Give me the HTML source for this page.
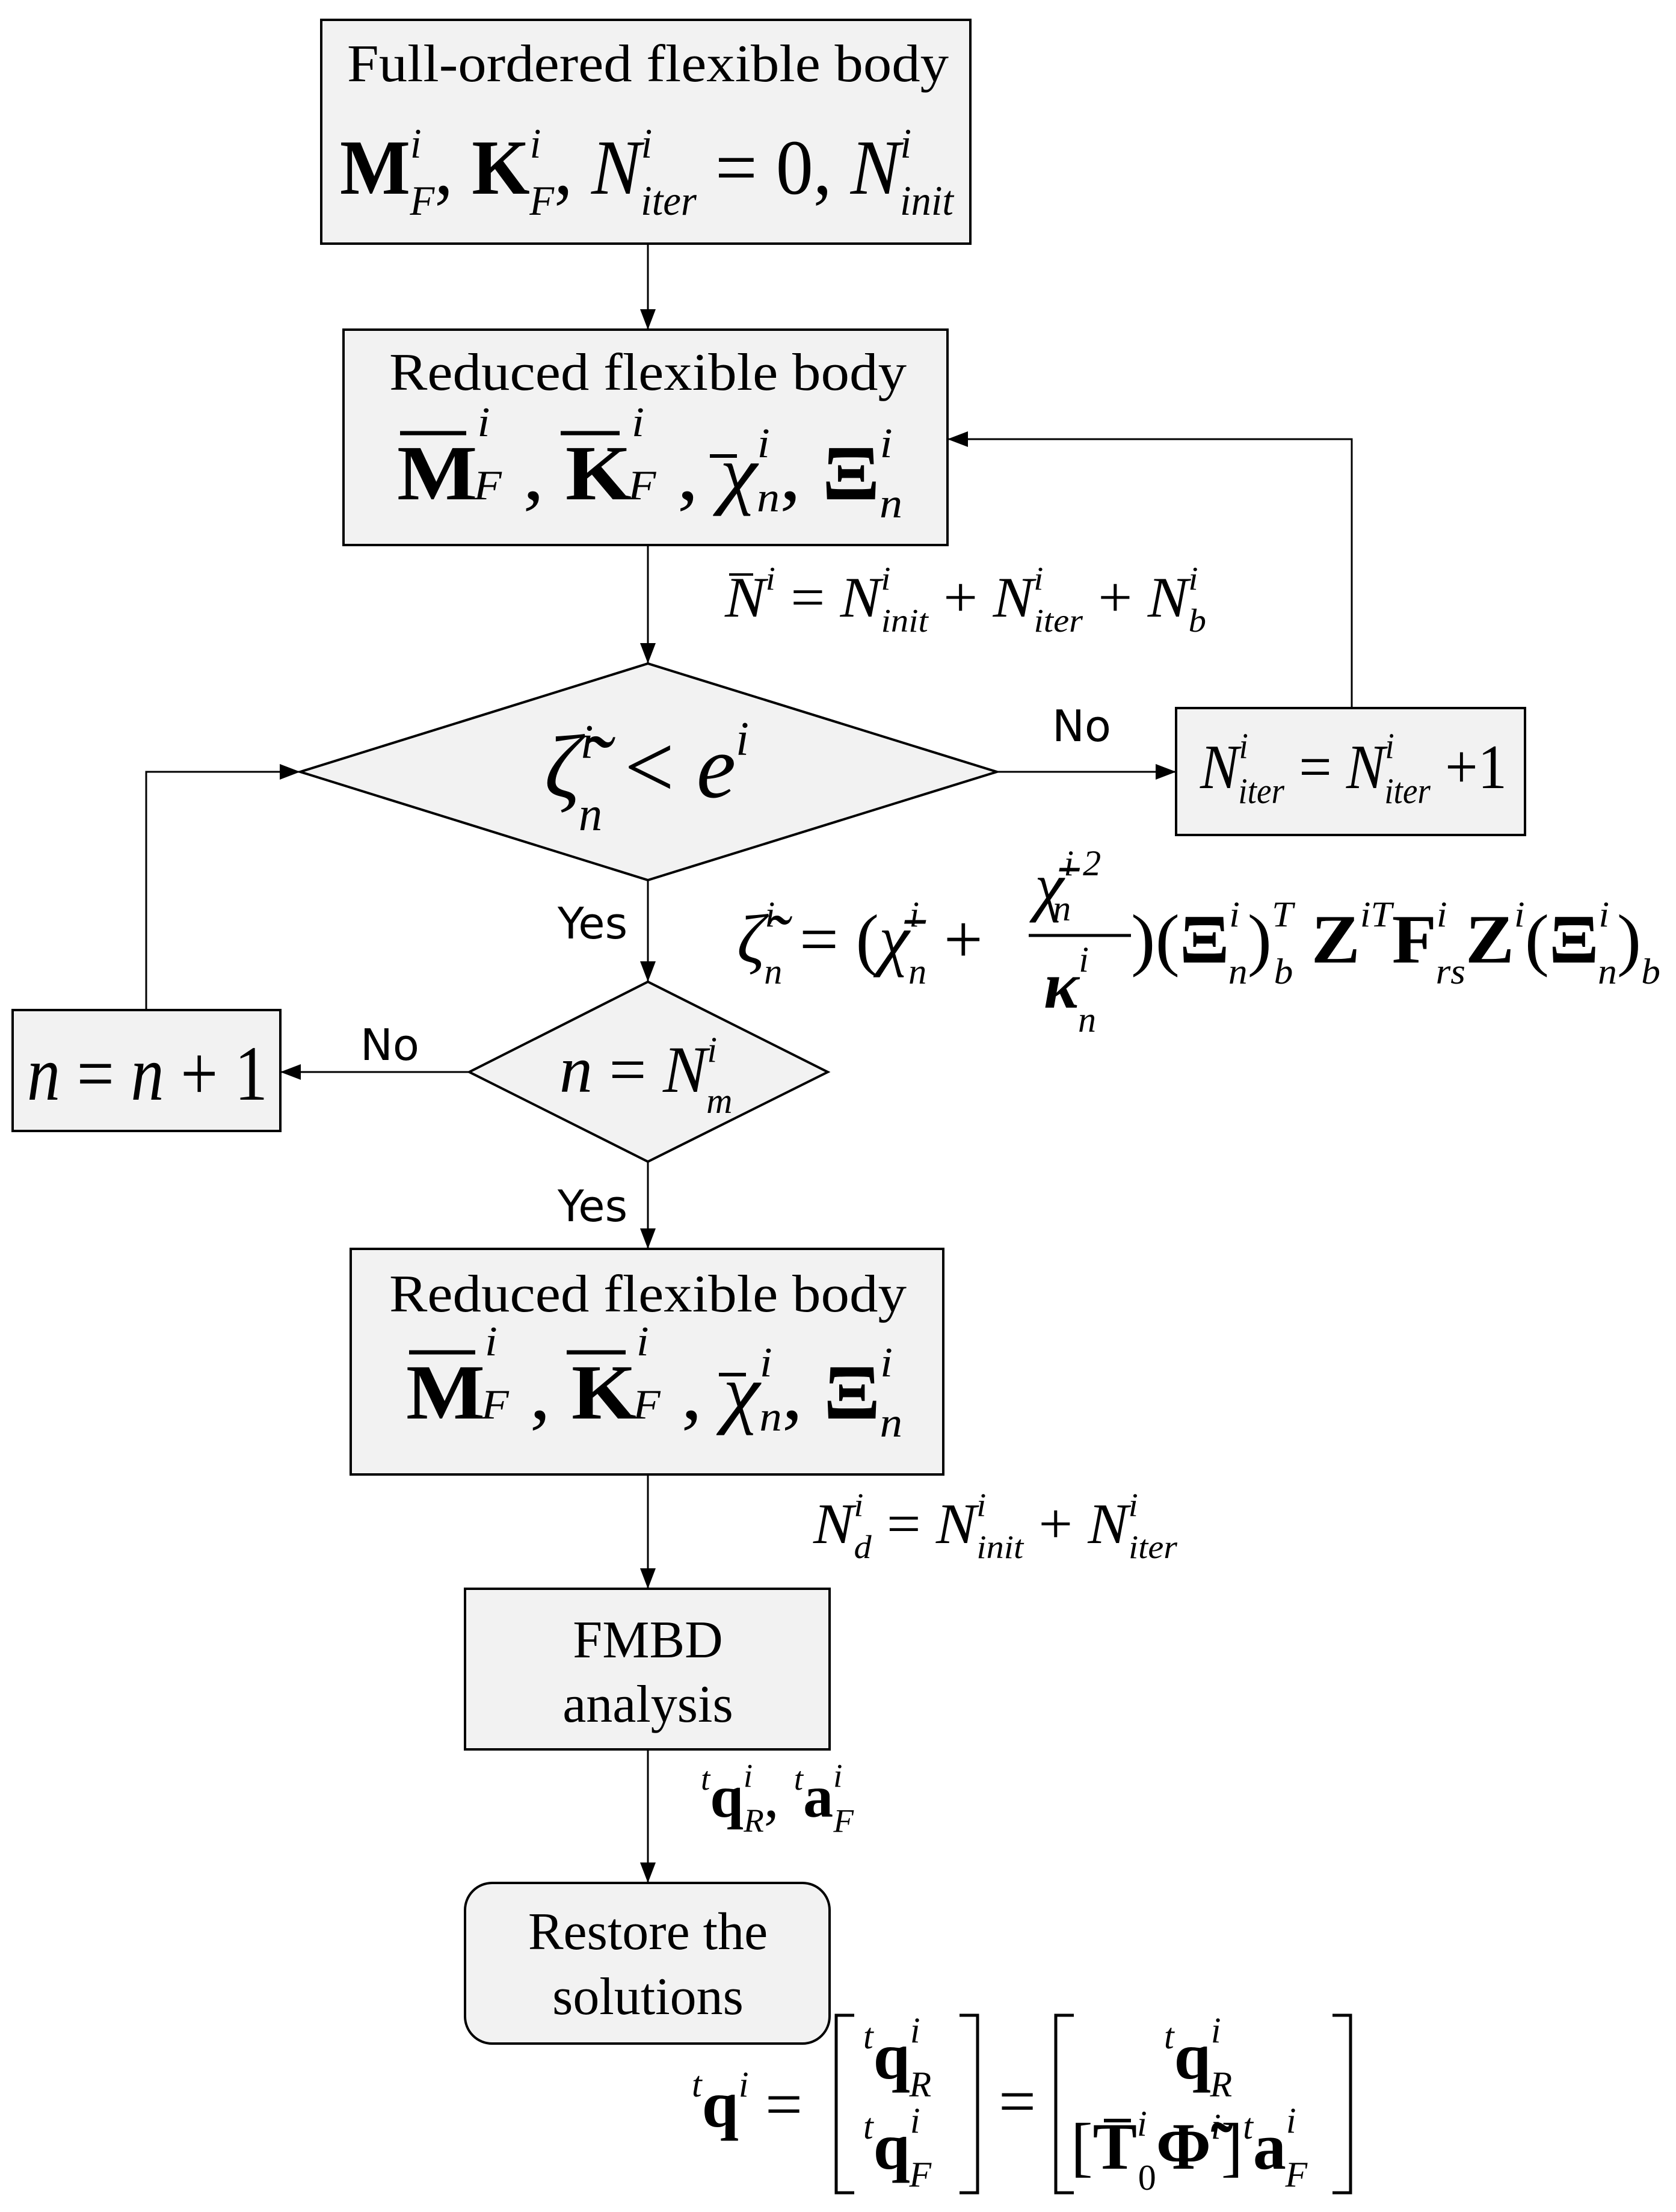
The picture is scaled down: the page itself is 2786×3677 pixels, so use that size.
<!DOCTYPE html>
<html><head><meta charset="utf-8"><style>
html,body{margin:0;padding:0;background:#fff}
svg{display:block}
text{font-family:"Liberation Serif",serif;fill:#000}
.s{font-family:"DejaVu Sans","Liberation Sans",sans-serif}
.it{font-style:italic}
.b{font-weight:bold}
</style></head><body>
<svg width="2786" height="3677" viewBox="0 0 2786 3677" xmlns="http://www.w3.org/2000/svg">
<defs><marker id="a" markerWidth="10" markerHeight="8" refX="10" refY="4" orient="auto" markerUnits="userSpaceOnUse" viewBox="0 0 10 8"><path d="M0,0L10,4L0,8z" fill="#000"/></marker></defs>
<defs><marker id="ar" markerWidth="34" markerHeight="26" refX="34" refY="13" orient="auto" markerUnits="userSpaceOnUse"><path d="M0,0L34,13L0,26z" fill="#000"/></marker></defs>
<g fill="#f2f2f2" stroke="#000" stroke-width="4">
<rect x="534" y="33" width="1079" height="372"/>
<rect x="571" y="548" width="1004" height="358"/>
<polygon points="499,1283 1077,1103 1657,1283 1077,1463"/>
<rect x="1955" y="1177" width="580" height="211"/>
<polygon points="780,1782 1077,1632 1376,1782 1077,1931"/>
<rect x="21" y="1679" width="445" height="201"/>
<rect x="583" y="2076" width="985" height="375"/>
<rect x="773" y="2641" width="606" height="267"/>
<rect x="773" y="3130" width="606" height="267" rx="45"/>
</g>
<g stroke="#000" stroke-width="3" fill="none">
<line x1="1077" y1="405" x2="1077" y2="548" marker-end="url(#ar)"/>
<line x1="1077" y1="906" x2="1077" y2="1103" marker-end="url(#ar)"/>
<line x1="1657" y1="1283" x2="1955" y2="1283" marker-end="url(#ar)"/>
<polyline points="2247,1177 2247,730 1575,730" marker-end="url(#ar)"/>
<line x1="1077" y1="1463" x2="1077" y2="1632" marker-end="url(#ar)"/>
<line x1="780" y1="1782" x2="466" y2="1782" marker-end="url(#ar)"/>
<polyline points="243,1679 243,1283 499,1283" marker-end="url(#ar)"/>
<line x1="1077" y1="1931" x2="1077" y2="2076" marker-end="url(#ar)"/>
<line x1="1077" y1="2451" x2="1077" y2="2641" marker-end="url(#ar)"/>
<line x1="1077" y1="2908" x2="1077" y2="3130" marker-end="url(#ar)"/>
</g>
<!-- box1 -->
<text x="1077" y="135" font-size="88" text-anchor="middle" textLength="1000" lengthAdjust="spacingAndGlyphs">Full-ordered flexible body</text>
<text x="565" y="322" font-size="130" textLength="1020" lengthAdjust="spacingAndGlyphs"><tspan class="b">M</tspan><tspan class="it" font-size="70" dy="-60">i</tspan><tspan class="it" font-size="70" dx="-20" dy="95">F</tspan><tspan dy="-35">, </tspan><tspan class="b">K</tspan><tspan class="it" font-size="70" dy="-60">i</tspan><tspan class="it" font-size="70" dx="-20" dy="95">F</tspan><tspan dy="-35">, </tspan><tspan class="it">N</tspan><tspan class="it" font-size="70" dy="-60">i</tspan><tspan class="it" font-size="70" dx="-20" dy="95">iter</tspan><tspan dy="-35"> = 0, </tspan><tspan class="it">N</tspan><tspan class="it" font-size="70" dy="-60">i</tspan><tspan class="it" font-size="70" dx="-20" dy="95">init</tspan></text>
<!-- box2 -->
<text x="1077" y="648" font-size="88" text-anchor="middle" textLength="860" lengthAdjust="spacingAndGlyphs">Reduced flexible body</text>
<g>
<line x1="665" y1="720" x2="775" y2="720" stroke="#000" stroke-width="7"/>
<line x1="932" y1="720" x2="1030" y2="720" stroke="#000" stroke-width="7"/>
<line x1="1180" y1="758" x2="1225" y2="758" stroke="#000" stroke-width="6"/>
<text x="660" y="830" font-size="130" textLength="840" lengthAdjust="spacingAndGlyphs"><tspan class="b">M</tspan><tspan class="it" font-size="70" dy="-105">i</tspan><tspan class="it" font-size="70" dx="-25" dy="105">F</tspan><tspan> , </tspan><tspan class="b">K</tspan><tspan class="it" font-size="70" dy="-105">i</tspan><tspan class="it" font-size="70" dx="-25" dy="105">F</tspan><tspan> , </tspan><tspan class="it">χ</tspan><tspan class="it" font-size="70" dy="-70">i</tspan><tspan class="it" font-size="70" dx="-20" dy="90">n</tspan><tspan dy="-20">, </tspan><tspan class="b">Ξ</tspan><tspan class="it" font-size="70" dy="-70">i</tspan><tspan class="it" font-size="70" dx="-20" dy="100">n</tspan></text>
</g>
<!-- Nbar eq -->
<line x1="1212" y1="955" x2="1252" y2="955" stroke="#000" stroke-width="4"/>
<text x="1205" y="1025" font-size="95" textLength="800" lengthAdjust="spacingAndGlyphs"><tspan class="it">N</tspan><tspan class="it" font-size="55" dy="-45">i</tspan><tspan dy="45"> = </tspan><tspan class="it">N</tspan><tspan class="it" font-size="55" dy="-45">i</tspan><tspan class="it" font-size="55" dx="-15" dy="70">init</tspan><tspan dy="-25"> + </tspan><tspan class="it">N</tspan><tspan class="it" font-size="55" dy="-45">i</tspan><tspan class="it" font-size="55" dx="-15" dy="70">iter</tspan><tspan dy="-25"> + </tspan><tspan class="it">N</tspan><tspan class="it" font-size="55" dy="-45">i</tspan><tspan class="it" font-size="55" dx="-15" dy="70">b</tspan></text>
<!-- diamond1 -->
<text x="905" y="1325" font-size="150" textLength="340" lengthAdjust="spacingAndGlyphs"><tspan class="it">ζ̃</tspan><tspan class="it" font-size="80" dy="-65">i</tspan><tspan class="it" font-size="80" dx="-25" dy="120">n</tspan><tspan dy="-55"> &lt; </tspan><tspan class="it">e</tspan><tspan class="it" font-size="80" dy="-70">i</tspan></text>
<text x="1798" y="1232" font-size="72" class="s" text-anchor="middle">No</text>
<!-- Niter box -->
<text x="1995" y="1310" font-size="105" textLength="510" lengthAdjust="spacingAndGlyphs"><tspan class="it">N</tspan><tspan class="it" font-size="60" dy="-50">i</tspan><tspan class="it" font-size="60" dx="-18" dy="75">iter</tspan><tspan dy="-25"> = </tspan><tspan class="it">N</tspan><tspan class="it" font-size="60" dy="-50">i</tspan><tspan class="it" font-size="60" dx="-18" dy="75">iter</tspan><tspan dy="-25"> +1</tspan></text>
<!-- Yes 1 -->
<text x="985" y="1560" font-size="72" class="s" text-anchor="middle">Yes</text>
<!-- zeta eq -->
<text x="1225" y="1600" font-size="115"><tspan class="it">ζ̃</tspan><tspan class="it" font-size="60" dy="-60">i</tspan><tspan class="it" font-size="60" dx="-18" dy="95">n</tspan><tspan dy="-35"> = (</tspan><tspan class="it">χ̄</tspan><tspan class="it" font-size="60" dy="-60">i</tspan><tspan class="it" font-size="60" dx="-18" dy="95">n</tspan><tspan dy="-35"> +</tspan></text>
<line x1="1710" y1="1555" x2="1880" y2="1555" stroke="#000" stroke-width="5"/>
<text x="1720" y="1510" font-size="110" class="it">χ̄<tspan font-size="60" dy="-55">i 2</tspan><tspan font-size="60" dx="-80" dy="75">n</tspan></text>
<text x="1735" y="1675" font-size="110" class="it b">κ<tspan font-size="60" font-weight="normal" dy="-60">i</tspan><tspan font-size="60" font-weight="normal" dx="-18" dy="100">n</tspan></text>
<text x="1880" y="1600" font-size="115" textLength="880" lengthAdjust="spacingAndGlyphs"><tspan>)(</tspan><tspan class="b">Ξ</tspan><tspan class="it" font-size="60" dy="-60">i</tspan><tspan class="it" font-size="60" dx="-18" dy="95">n</tspan><tspan dy="-35">)</tspan><tspan class="it" font-size="60" dy="-60">T</tspan><tspan class="it" font-size="60" dx="-30" dy="95">b</tspan><tspan class="b" dy="-35"> Z</tspan><tspan class="it" font-size="60" dy="-60">iT</tspan><tspan class="b" dy="60">F</tspan><tspan class="it" font-size="60" dy="-60">i</tspan><tspan class="it" font-size="60" dx="-18" dy="95">rs</tspan><tspan class="b" dy="-35">Z</tspan><tspan class="it" font-size="60" dy="-60">i</tspan><tspan dy="60">(</tspan><tspan class="b">Ξ</tspan><tspan class="it" font-size="60" dy="-60">i</tspan><tspan class="it" font-size="60" dx="-18" dy="95">n</tspan><tspan dy="-35">)</tspan><tspan class="it" font-size="60" dy="35">b</tspan></text>
<!-- diamond2 -->
<text x="930" y="1815" font-size="110"><tspan class="it">n</tspan><tspan> = </tspan><tspan class="it">N</tspan><tspan class="it" font-size="60" dy="-50">i</tspan><tspan class="it" font-size="60" dx="-18" dy="85">m</tspan></text>
<text x="648" y="1762" font-size="72" class="s" text-anchor="middle">No</text>
<text x="45" y="1828" font-size="130" textLength="400" lengthAdjust="spacingAndGlyphs"><tspan class="it">n</tspan> = <tspan class="it">n</tspan> + 1</text>
<text x="985" y="2030" font-size="72" class="s" text-anchor="middle">Yes</text>
<!-- box3 -->
<text x="1077" y="2180" font-size="88" text-anchor="middle" textLength="860" lengthAdjust="spacingAndGlyphs">Reduced flexible body</text>
<line x1="680" y1="2248" x2="790" y2="2248" stroke="#000" stroke-width="7"/>
<line x1="942" y1="2248" x2="1040" y2="2248" stroke="#000" stroke-width="7"/>
<line x1="1195" y1="2285" x2="1240" y2="2285" stroke="#000" stroke-width="6"/>
<text x="675" y="2358" font-size="130" textLength="825" lengthAdjust="spacingAndGlyphs"><tspan class="b">M</tspan><tspan class="it" font-size="70" dy="-105">i</tspan><tspan class="it" font-size="70" dx="-25" dy="105">F</tspan><tspan> , </tspan><tspan class="b">K</tspan><tspan class="it" font-size="70" dy="-105">i</tspan><tspan class="it" font-size="70" dx="-25" dy="105">F</tspan><tspan> , </tspan><tspan class="it">χ</tspan><tspan class="it" font-size="70" dy="-70">i</tspan><tspan class="it" font-size="70" dx="-20" dy="90">n</tspan><tspan dy="-20">, </tspan><tspan class="b">Ξ</tspan><tspan class="it" font-size="70" dy="-70">i</tspan><tspan class="it" font-size="70" dx="-20" dy="100">n</tspan></text>
<!-- Nd eq -->
<text x="1352" y="2565" font-size="95" textLength="605" lengthAdjust="spacingAndGlyphs"><tspan class="it">N</tspan><tspan class="it" font-size="55" dy="-45">i</tspan><tspan class="it" font-size="55" dx="-15" dy="70">d</tspan><tspan dy="-25"> = </tspan><tspan class="it">N</tspan><tspan class="it" font-size="55" dy="-45">i</tspan><tspan class="it" font-size="55" dx="-15" dy="70">init</tspan><tspan dy="-25"> + </tspan><tspan class="it">N</tspan><tspan class="it" font-size="55" dy="-45">i</tspan><tspan class="it" font-size="55" dx="-15" dy="70">iter</tspan></text>
<!-- FMBD -->
<text x="1077" y="2755" font-size="88" text-anchor="middle">FMBD</text>
<text x="1077" y="2862" font-size="88" text-anchor="middle">analysis</text>
<text x="1165" y="3020" font-size="100"><tspan class="it" font-size="55" dy="-45">t</tspan><tspan class="b" dy="45">q</tspan><tspan class="it" font-size="55" dy="-50">i</tspan><tspan class="it" font-size="55" dx="-15" dy="75">R</tspan><tspan dy="-25">,  </tspan><tspan class="it" font-size="55" dy="-45">t</tspan><tspan class="b" dy="45">a</tspan><tspan class="it" font-size="55" dy="-50">i</tspan><tspan class="it" font-size="55" dx="-15" dy="75">F</tspan></text>
<!-- Restore -->
<text x="1077" y="3240" font-size="88" text-anchor="middle">Restore the</text>
<text x="1077" y="3348" font-size="88" text-anchor="middle">solutions</text>
<!-- final eq -->
<text x="1150" y="3535" font-size="110"><tspan class="it" font-size="60" dy="-50">t</tspan><tspan class="b" dy="50">q</tspan><tspan class="it" font-size="60" dy="-50">i</tspan><tspan dy="50"> =</tspan></text>
<g stroke="#000" stroke-width="5" fill="none">
<polyline points="1420,3350 1390,3350 1390,3645 1420,3645"/>
<polyline points="1595,3350 1625,3350 1625,3645 1595,3645"/>
<polyline points="1785,3350 1755,3350 1755,3645 1785,3645"/>
<polyline points="2215,3350 2245,3350 2245,3645 2215,3645"/>
</g>
<text x="1435" y="3455" font-size="110"><tspan class="it" font-size="60" dy="-50">t</tspan><tspan class="b" dy="50">q</tspan><tspan class="it" font-size="60" dy="-60">i</tspan><tspan class="it" font-size="60" dx="-18" dy="90">R</tspan></text>
<text x="1435" y="3605" font-size="110"><tspan class="it" font-size="60" dy="-50">t</tspan><tspan class="b" dy="50">q</tspan><tspan class="it" font-size="60" dy="-60">i</tspan><tspan class="it" font-size="60" dx="-18" dy="90">F</tspan></text>
<text x="1660" y="3530" font-size="110">=</text>
<text x="1935" y="3455" font-size="110"><tspan class="it" font-size="60" dy="-50">t</tspan><tspan class="b" dy="50">q</tspan><tspan class="it" font-size="60" dy="-60">i</tspan><tspan class="it" font-size="60" dx="-18" dy="90">R</tspan></text>
<line x1="1835" y1="3525" x2="1880" y2="3525" stroke="#000" stroke-width="6"/>
<text x="1780" y="3605" font-size="110"><tspan>[</tspan><tspan class="b">T</tspan><tspan class="it" font-size="60" dy="-55">i</tspan><tspan font-size="60" dx="-15" dy="90">0</tspan><tspan class="b" dy="-35">Φ̃</tspan><tspan class="it" font-size="60" dy="-50">i</tspan><tspan dy="50">]</tspan><tspan class="it" font-size="60" dy="-50">t</tspan><tspan class="b" dy="50">a</tspan><tspan class="it" font-size="60" dy="-60">i</tspan><tspan class="it" font-size="60" dx="-18" dy="90">F</tspan></text>
</svg>
</body></html>
